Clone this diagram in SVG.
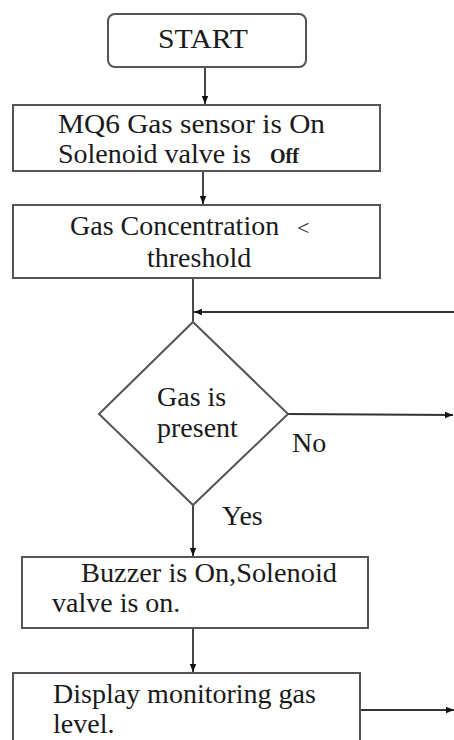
<svg xmlns="http://www.w3.org/2000/svg" width="454" height="740" viewBox="0 0 454 740">
<style>
.box{fill:#fff;stroke:#555;stroke-width:2}
.t{font-family:'Liberation Serif',serif;font-size:28px;fill:#1a1a1a}
.c{fill:none;stroke:#333;stroke-width:1.8}
</style>
<defs>
<marker id="ah" viewBox="0 0 10 10" refX="10" refY="5" markerWidth="8" markerHeight="8" orient="auto" markerUnits="userSpaceOnUse">
<path d="M0,1 L10,5 L0,9 z" fill="#111"/>
</marker>
</defs>
<rect width="454" height="740" fill="#fff"/>
<g id="connectors">
<line class="c" x1="205" y1="67" x2="205" y2="104" marker-end="url(#ah)"/>
<line class="c" x1="203" y1="171" x2="203" y2="204" marker-end="url(#ah)"/>
<line class="c" x1="193" y1="278" x2="193" y2="321"/>
<line class="c" x1="454" y1="312" x2="194" y2="312" marker-end="url(#ah)"/>
<line class="c" x1="288" y1="414" x2="453" y2="415" marker-end="url(#ah)"/>
<line class="c" x1="193" y1="505" x2="193" y2="556" marker-end="url(#ah)"/>
<line class="c" x1="193" y1="628" x2="193" y2="672" marker-end="url(#ah)"/>
<line class="c" x1="360" y1="710" x2="454" y2="710" marker-end="url(#ah)"/>
</g>
<g id="start">
<rect class="box" x="108" y="14" width="198" height="53" rx="7"/>
<text class="t" x="158" y="48" textLength="90" lengthAdjust="spacingAndGlyphs">START</text>
</g>
<g id="sensor">
<rect class="box" x="13" y="105" width="367" height="66"/>
<text class="t" x="58" y="133" textLength="267" lengthAdjust="spacingAndGlyphs">MQ6 Gas sensor is On</text>
<text class="t" x="58" y="163">Solenoid valve is <tspan x="270" font-size="20" font-weight="bold">Off</tspan></text>
</g>
<g id="threshold">
<rect class="box" x="13" y="205" width="367" height="73"/>
<text class="t" x="70" y="235">Gas Concentration <tspan x="297" font-size="22">&lt;</tspan></text>
<text class="t" x="147" y="267">threshold</text>
</g>
<g id="decision">
<polygon class="box" points="193,322 288,414 193,505 99,414"/>
<text class="t" x="157" y="406">Gas is</text>
<text class="t" x="157" y="437">present</text>
</g>
<g id="labels">
<text class="t" x="292" y="452">No</text>
<text class="t" x="222" y="525">Yes</text>
</g>
<g id="buzzer">
<rect class="box" x="22" y="557" width="346" height="71"/>
<text class="t" x="81" y="582" textLength="256" lengthAdjust="spacingAndGlyphs">Buzzer is On,Solenoid</text>
<text class="t" x="52" y="612">valve is on.</text>
</g>
<g id="display">
<rect class="box" x="13" y="673" width="347" height="80"/>
<text class="t" x="53" y="703">Display monitoring gas</text>
<text class="t" x="53" y="733">level.</text>
</g>
</svg>
